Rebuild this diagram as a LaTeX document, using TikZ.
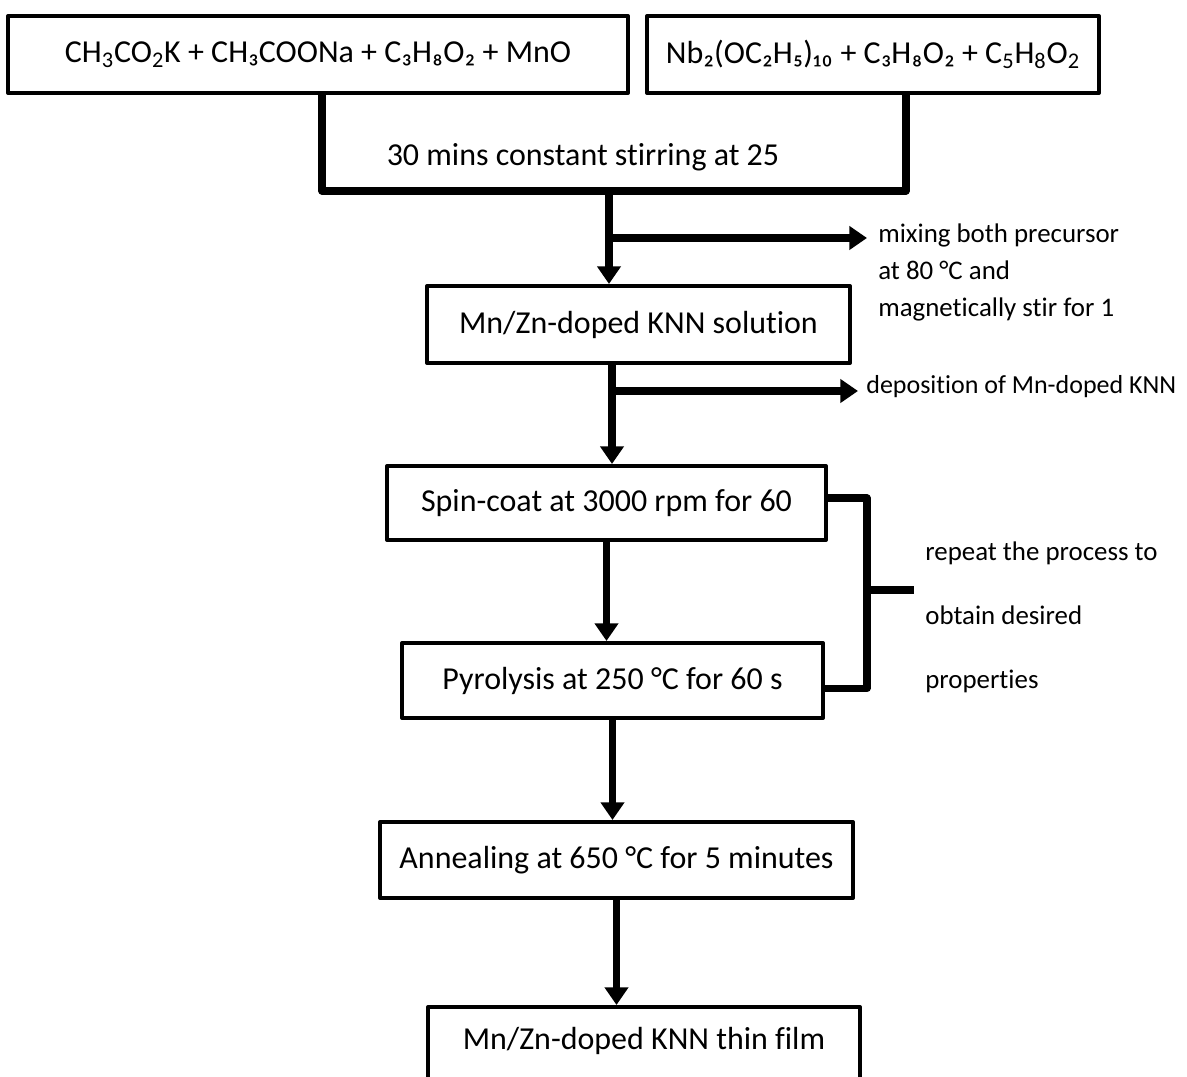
\documentclass[tikz,border=0pt]{standalone}
\usepackage{fontspec}
\setmainfont{Carlito}[Ligatures=NoCommon]
\usetikzlibrary{arrows.meta}

\begin{document}
\begin{tikzpicture}[x=0.02cm, y=-0.02cm,
    box/.style={draw, line width=2.3pt, line join=round, fill=white, inner sep=0pt, font=\fontsize{18.2}{22}\selectfont},
    frame/.style={line width=4pt, line join=round},
    arr/.style={line width=4pt, -{Triangle[length=10pt, width=13pt]}},
    side/.style={inner xsep=0.22cm, inner ysep=0pt, align=left, font=\fontsize{15.3}{21.3}\selectfont}]
    \useasboundingbox (0,0) rectangle (1187,1077);
    \clip (0,0) rectangle (1187,1077);

    % Precursors
    \node[box, minimum width=12.4cm, minimum height=1.54cm] (pre1) at (318,54.5)
        {CH\textsubscript{3}CO\textsubscript{2}K + CH₃COONa + C₃H₈O₂ + MnO};
    \node[box, minimum width=9.04cm, minimum height=1.54cm] (pre2) at (873,54.5)
        {Nb₂(OC₂H₅)₁₀ + C₃H₈O₂ + C\textsubscript{5}H\textsubscript{8}O\textsubscript{2}};

    % Stirring
    \coordinate (sl) at (322,191);
    \coordinate (sr) at (906,191);
    \draw[frame] (sl |- pre1.south) -- (sl) -- (sr) -- (sr |- pre2.south);
    \node[font=\fontsize{18.2}{22}\selectfont] (stir) at (583,157) {30 mins constant stirring at 25};

    % Steps
    \node[box, minimum width=8.46cm, minimum height=1.54cm] (sol) at (638.5,324.5) {Mn/Zn-doped KNN solution};
    \node[box, minimum width=8.78cm, minimum height=1.48cm] (spin) at (606.5,503) {Spin-coat at 3000 rpm for 60};
    \node[box, minimum width=8.42cm, minimum height=1.5cm] (pyro) at (612.5,680.5) {Pyrolysis at 250 °C for 60 s};
    \node[box, minimum width=9.46cm, minimum height=1.52cm] (anneal) at (616.5,860) {Annealing at 650 °C for 5 minutes};
    \node[box, anchor=north, minimum width=8.64cm, text height=0.84cm, text depth=1.5cm] (film) at (644,1005)
        {Mn/Zn-doped KNN thin film};

    % Side notes
    \node[side, anchor=west] (mixing) at (867,272.5)
        {mixing both precursor\\at 80 °C and\\magnetically stir for 1};
    \node[side, anchor=west, inner xsep=0.16cm, font=\fontsize{14.8}{21.3}\selectfont] (depo) at (858,387)
        {deposition of Mn-doped KNN};
    \node[side, anchor=west, font=\fontsize{15.3}{36.4}\selectfont] (repeat) at (914,617)
        {repeat the process to\\obtain desired\\properties};

    % Arrows
    \coordinate (m1) at (609,191);
    \coordinate (j1) at (609,238);
    \coordinate (j2) at (612,391);
    \draw[arr] (m1) -- (m1 |- sol.north);
    \draw[arr] (j1) -- (j1 -| mixing.west);
    \draw[arr] (j2 |- sol.south) -- (j2 |- spin.north);
    \draw[arr] (j2) -- (j2 -| depo.west);
    \draw[arr] (spin.south) -- (spin.south |- pyro.north);
    \draw[arr] (pyro.south) -- (pyro.south |- anneal.north);
    \draw[arr] (anneal.south) -- (anneal.south |- film.north);

    % Repeat bracket
    \coordinate (br) at (867,590);
    \draw[frame] ([yshift=0.1cm]spin.east) -| (br) |- ([yshift=-0.16cm]pyro.east);
    \draw[frame] (br) -- (repeat.west |- br);
\end{tikzpicture}
\end{document}
